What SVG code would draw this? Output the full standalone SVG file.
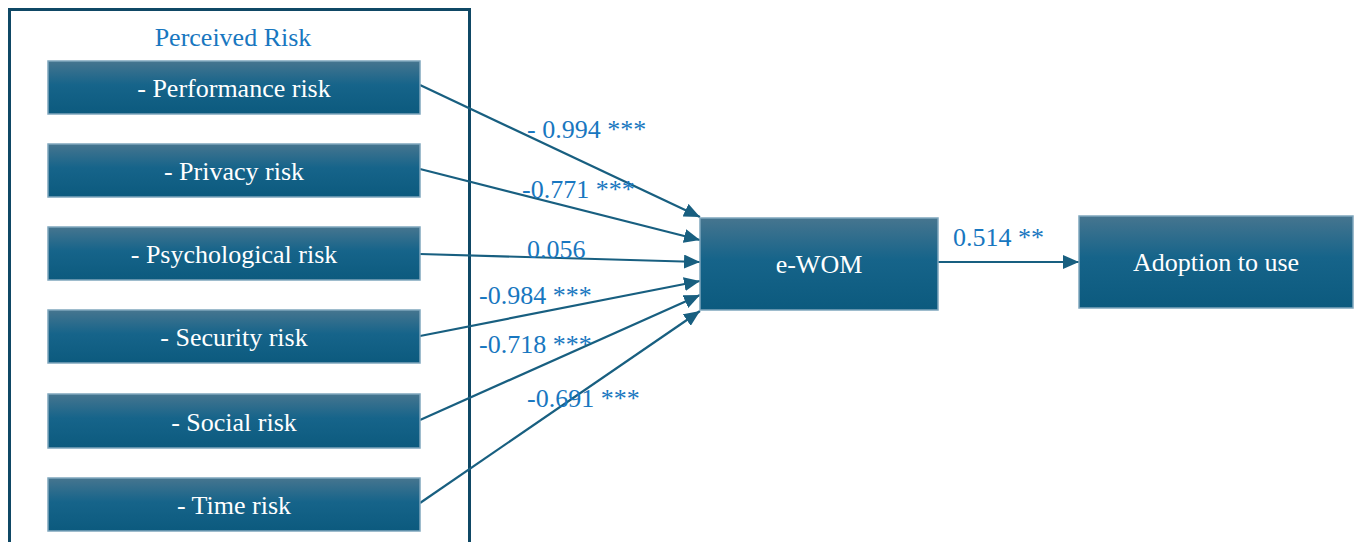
<svg xmlns="http://www.w3.org/2000/svg" width="1356" height="542" viewBox="0 0 1356 542">
<defs>
<linearGradient id="g" x1="0" y1="0" x2="0" y2="1">
<stop offset="0" stop-color="#46758f"/>
<stop offset="0.45" stop-color="#16648a"/>
<stop offset="1" stop-color="#0c5a7e"/>
</linearGradient>
<marker id="a" viewBox="0 0 16 14" refX="16" refY="7" markerWidth="16" markerHeight="14" orient="auto" markerUnits="userSpaceOnUse">
<path d="M0,0 L16,7 L0,14 z" fill="#185f80"/>
</marker>
<style>
.box{fill:url(#g);stroke:#7fa6bd;stroke-width:1.5}
.nt{font-size:26px;fill:#ffffff;text-anchor:middle}
.lb{font-size:26px;fill:#1877c0}
.cn{stroke:#185f80;stroke-width:2.2;fill:none;marker-end:url(#a)}
</style>
</defs>
<rect width="1356" height="542" fill="#ffffff"/>
<g font-family="Liberation Serif, Times New Roman, serif">
<g id="perceived-risk">
<rect x="9.5" y="9.5" width="460" height="540" fill="none" stroke="#0f4865" stroke-width="3"/>
<text class="lb" x="233" y="46" text-anchor="middle" font-size="25">Perceived Risk</text>
</g>
<g id="connectors">
<line class="cn" x1="420" y1="85" x2="700" y2="217"/>
<line class="cn" x1="420" y1="169" x2="700" y2="240"/>
<line class="cn" x1="420" y1="254" x2="700" y2="262"/>
<line class="cn" x1="420" y1="336" x2="700" y2="281"/>
<line class="cn" x1="420" y1="420" x2="700" y2="295"/>
<line class="cn" x1="420" y1="503" x2="700" y2="311"/>
<line class="cn" x1="938" y1="262" x2="1079" y2="262"/>
<text class="lb" x="527" y="138">- 0.994 ***</text>
<text class="lb" x="522" y="198">-0.771 ***</text>
<text class="lb" x="527" y="258">0.056</text>
<text class="lb" x="479" y="304">-0.984 ***</text>
<text class="lb" x="479" y="353">-0.718 ***</text>
<text class="lb" x="527" y="407">-0.691 ***</text>
<text class="lb" x="953" y="246">0.514 **</text>
</g>
<g id="performance"><rect class="box" x="48" y="61" width="372" height="53"/><text class="nt" x="234" y="97">- Performance risk</text></g>
<g id="privacy"><rect class="box" x="48" y="144" width="372" height="53"/><text class="nt" x="234" y="180">- Privacy risk</text></g>
<g id="psychological"><rect class="box" x="48" y="227" width="372" height="53"/><text class="nt" x="234" y="263">- Psychological risk</text></g>
<g id="security"><rect class="box" x="48" y="310" width="372" height="53"/><text class="nt" x="234" y="346">- Security risk</text></g>
<g id="social"><rect class="box" x="48" y="394" width="372" height="54"/><text class="nt" x="234" y="431">- Social risk</text></g>
<g id="time"><rect class="box" x="48" y="478" width="372" height="53"/><text class="nt" x="234" y="514">- Time risk</text></g>
<g id="ewom"><rect class="box" x="700" y="218" width="238" height="92"/><text class="nt" x="819" y="273">e-WOM</text></g>
<g id="adoption"><rect class="box" x="1079" y="216" width="274" height="92"/><text class="nt" x="1216" y="271">Adoption to use</text></g>
</g>
</svg>
